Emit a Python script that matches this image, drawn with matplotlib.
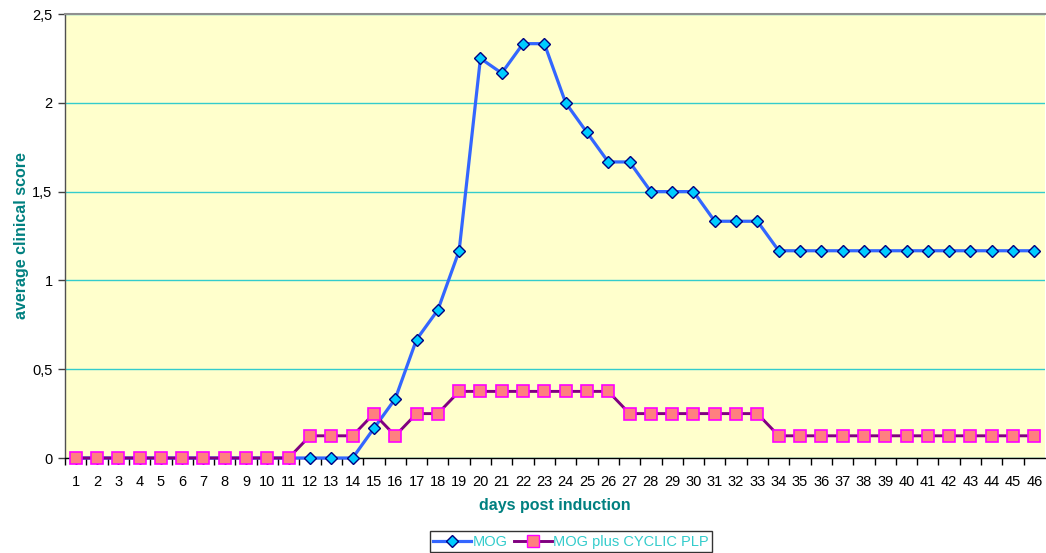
import matplotlib
matplotlib.use("Agg")
import matplotlib.pyplot as plt
from matplotlib.lines import Line2D

plt.rcParams['font.family'] = ['Liberation Sans', 'DejaVu Sans']

# data
days = list(range(1, 47))
mog = [0, 0, 0, 0, 0, 0, 0, 0, 0, 0, 0, 0, 0, 0,
       0.167, 0.333, 0.667, 0.833, 1.167, 2.25, 2.167, 2.333, 2.333,
       2.0, 1.833, 1.667, 1.667, 1.5, 1.5, 1.5, 1.333, 1.333, 1.333,
       1.167, 1.167, 1.167, 1.167, 1.167, 1.167, 1.167, 1.167, 1.167,
       1.167, 1.167, 1.167, 1.167]
mog_plp = [0, 0, 0, 0, 0, 0, 0, 0, 0, 0, 0,
           0.125, 0.125, 0.125, 0.25, 0.125, 0.25, 0.25,
           0.375, 0.375, 0.375, 0.375, 0.375, 0.375, 0.375, 0.375,
           0.25, 0.25, 0.25, 0.25, 0.25, 0.25, 0.25,
           0.125, 0.125, 0.125, 0.125, 0.125, 0.125, 0.125, 0.125,
           0.125, 0.125, 0.125, 0.125, 0.125]
y_ticks = [0, 0.5, 1, 1.5, 2, 2.5]
y_tick_labels = ["0", "0,5", "1", "1,5", "2", "2,5"]
series_names = ["MOG", "MOG plus CYCLIC PLP"]

TEAL = "#008080"
GRID = "#33CCCC"
BLUE = "#3366FF"
PURPLE = "#800080"

fig = plt.figure(figsize=(10.46, 5.53), dpi=100)
ax = fig.add_axes([65 / 1046, 95 / 553, 980 / 1046, 444 / 553])
ax.set_facecolor("#FFFFCC")

# MOG
ax.plot(days, mog, color=BLUE, lw=2.3, marker="D", markersize=6.5,
        markerfacecolor="#00CCFF", markeredgecolor="#000080",
        markeredgewidth=1, zorder=4, clip_on=False)

# MOG plus CYCLIC PLP
ax.plot(days, mog_plp, color=PURPLE, lw=2.1, marker="s", markersize=8,
        markerfacecolor="#FF8080", markeredgecolor="#FF00FF",
        markeredgewidth=1.2, zorder=5, clip_on=False)

ax.set_xlim(0.5, 46.5)
ax.set_ylim(0, 2.5)

ax.set_xticks(days)
ax.set_xticklabels([str(d) for d in days])
ax.set_xticks([d + 0.5 for d in range(0, 46)], minor=True)
ax.tick_params(axis="x", which="major", length=0, pad=12, labelsize=10.5)
ax.tick_params(axis="x", which="minor", length=5, direction="out",
               color="black", width=1)

ax.set_yticks(y_ticks)
ax.set_yticklabels(y_tick_labels)
ax.tick_params(axis="y", length=5, direction="out", color="#404040",
               width=1, labelsize=10.5, pad=4)

ax.yaxis.grid(True, color=GRID, lw=1)
ax.set_axisbelow(True)

ax.spines["right"].set_visible(False)
ax.spines["top"].set_color("#909090")
ax.spines["top"].set_linewidth(1.5)
ax.spines["left"].set_color("#505050")
ax.spines["left"].set_linewidth(1)
ax.spines["bottom"].set_color("black")
ax.spines["bottom"].set_linewidth(1)

ax.set_xlabel("days post induction", fontsize=11.5, fontweight="bold",
              color=TEAL, labelpad=7)
ax.set_ylabel("average clinical score", fontsize=11.5, fontweight="bold",
              color=TEAL, labelpad=2)

handles = [
    Line2D([], [], color=BLUE, lw=2.3, marker="D", markersize=6.5,
           markerfacecolor="#00CCFF", markeredgecolor="#000080"),
    Line2D([], [], color=PURPLE, lw=2.1, marker="s", markersize=8,
           markerfacecolor="#FF8080", markeredgecolor="#FF00FF"),
]
leg = fig.legend(handles, series_names, loc="upper center",
                 bbox_to_anchor=(571 / 1046, 1 - 531 / 553), ncol=2,
                 fontsize=10.5, frameon=True, fancybox=False,
                 handlelength=2.6, handletextpad=0.1, columnspacing=0.4,
                 borderpad=0.25, borderaxespad=0)
leg.get_frame().set_edgecolor("black")
leg.get_frame().set_linewidth(1)
for t in leg.get_texts():
    t.set_color(GRID)

fig.savefig("out.png", dpi=100)
